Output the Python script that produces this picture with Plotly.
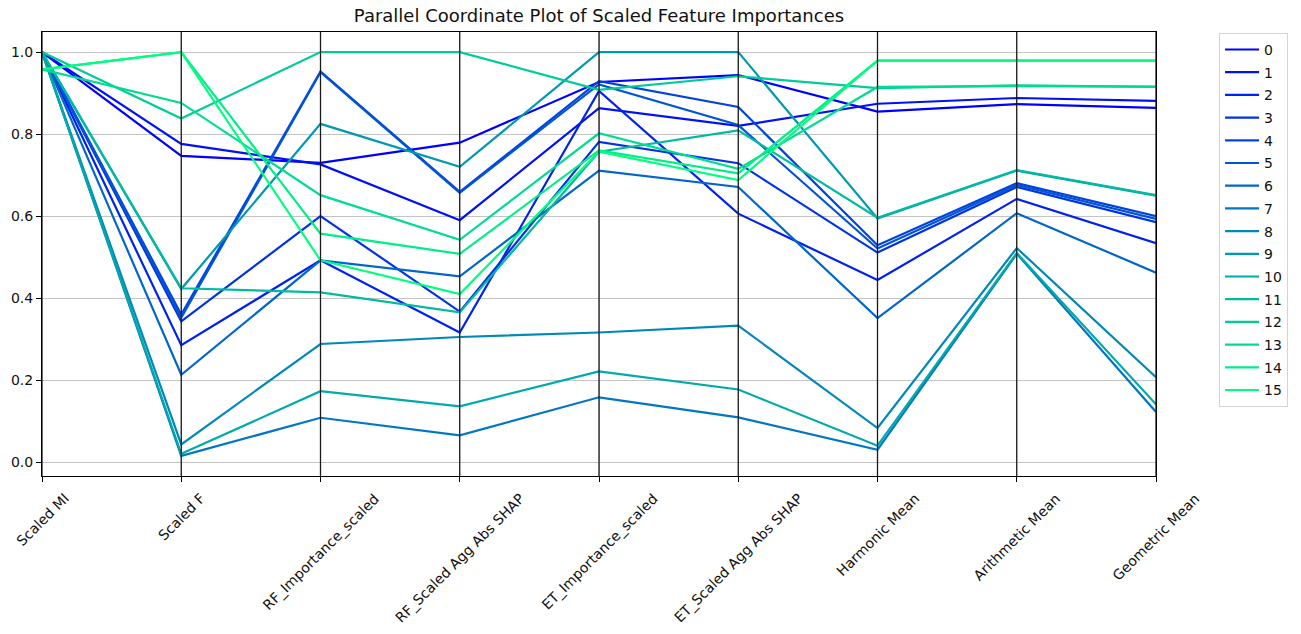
import plotly.graph_objects as go

# Feature-importance columns, one value per feature row (rows 0..15)
columns = [
    "Scaled MI", "Scaled F", "RF_Importance_scaled", "RF_Scaled Agg Abs SHAP",
    "ET_Importance_scaled", "ET_Scaled Agg Abs SHAP",
    "Harmonic Mean", "Arithmetic Mean", "Geometric Mean",
]
labels = [str(i) for i in range(16)]

scaled_mi = [1.0, 1.0, 1.0, 1.0, 1.0, 1.0, 1.0, 1.0,
             1.0, 1.0, 1.0, 1.0, 1.0, 0.958, 0.958, 0.958]
scaled_f = [0.747, 0.776, 0.285, 0.343, 0.360, 0.352, 0.213, 0.015,
            0.043, 0.422, 0.020, 0.424, 0.838, 0.876, 1.0, 1.0]
rf_importance = [0.730, 0.726, 0.492, 0.600, 0.953, 0.951, 0.492, 0.108,
                 0.288, 0.825, 0.173, 0.414, 1.0, 0.651, 0.557, 0.492]
rf_shap = [0.779, 0.590, 0.316, 0.367, 0.659, 0.657, 0.453, 0.065,
           0.305, 0.720, 0.136, 0.365, 1.0, 0.542, 0.508, 0.410]
et_importance = [0.927, 0.863, 0.905, 0.781, 0.929, 0.921, 0.711, 0.158,
                 0.316, 1.0, 0.221, 0.757, 0.908, 0.802, 0.760, 0.757]
et_shap = [0.944, 0.820, 0.606, 0.729, 0.866, 0.822, 0.671, 0.109,
           0.333, 1.0, 0.177, 0.809, 0.941, 0.715, 0.704, 0.688]
harmonic = [0.855, 0.874, 0.444, 0.511, 0.529, 0.521, 0.351, 0.030,
            0.083, 0.594, 0.040, 0.596, 0.912, 0.915, 0.979, 0.979]
arithmetic = [0.873, 0.888, 0.642, 0.671, 0.680, 0.676, 0.607, 0.508,
              0.522, 0.711, 0.510, 0.712, 0.919, 0.917, 0.979, 0.979]
geometric = [0.864, 0.881, 0.534, 0.585, 0.600, 0.593, 0.462, 0.122,
             0.207, 0.650, 0.141, 0.651, 0.915, 0.916, 0.979, 0.979]

series = [scaled_mi, scaled_f, rf_importance, rf_shap, et_importance,
          et_shap, harmonic, arithmetic, geometric]
y_ticks = [0.0, 0.2, 0.4, 0.6, 0.8, 1.0]


def winter(t):
    # matplotlib "winter" colormap: blue -> spring green
    return f"rgb(0,{round(255 * t)},{round(255 * (1 - 0.5 * t))})"


n = len(labels)
fig = go.Figure()
for i, lab in enumerate(labels):
    fig.add_trace(go.Scatter(
        x=list(range(len(columns))),
        y=[col[i] for col in series],
        mode="lines",
        name=lab,
        legendgroup=lab,
        line=dict(color=winter(i / (n - 1)), width=2.2),
        hoverinfo="skip",
    ))

# black vertical axis line at every coordinate
shapes = [
    dict(type="line", xref="x", yref="paper", x0=i, x1=i, y0=0, y1=1,
         line=dict(color="#1a1a1a", width=1.3), layer="above")
    for i in range(len(columns))
]

# rotated column labels, centred under each coordinate
annotations = [
    dict(text=c, x=i, xref="x", y=-0.026, yref="paper", textangle=-45,
         xanchor="center", yanchor="top", showarrow=False,
         font=dict(size=14, color="#111"))
    for i, c in enumerate(columns)
]

fig.update_layout(
    width=1301, height=634,
    margin=dict(l=42, r=145, t=32, b=158),
    paper_bgcolor="white", plot_bgcolor="white",
    font=dict(family="DejaVu Sans", size=14, color="#111"),
    title=dict(text="Parallel Coordinate Plot of Scaled Feature Importances",
               x=599 / 1301, xanchor="center", y=1 - 16 / 634,
               yanchor="middle", font=dict(size=18, color="#111")),
    xaxis=dict(range=[0, len(columns) - 1], tickvals=list(range(len(columns))),
               showticklabels=False, ticks="outside", ticklen=5,
               tickcolor="black", showgrid=True, gridcolor="#c4c4c4",
               gridwidth=1, showline=True, linecolor="black", linewidth=1,
               mirror=True, zeroline=False),
    yaxis=dict(range=[-0.034, 1.049], tickvals=y_ticks,
               ticktext=[f"{v:.1f}" for v in y_ticks], ticks="outside",
               ticklen=5, tickcolor="black", showgrid=True,
               gridcolor="#c4c4c4", gridwidth=1, showline=True,
               linecolor="black", linewidth=1, mirror=True, zeroline=False),
    legend=dict(x=1.0566, y=0.998, xanchor="left", yanchor="top",
                bordercolor="#d4d4d4", borderwidth=1, bgcolor="white",
                font=dict(size=14), tracegroupgap=1.5, itemwidth=34),
    shapes=shapes,
    annotations=annotations,
    showlegend=True,
)

fig.write_html("out.html")
